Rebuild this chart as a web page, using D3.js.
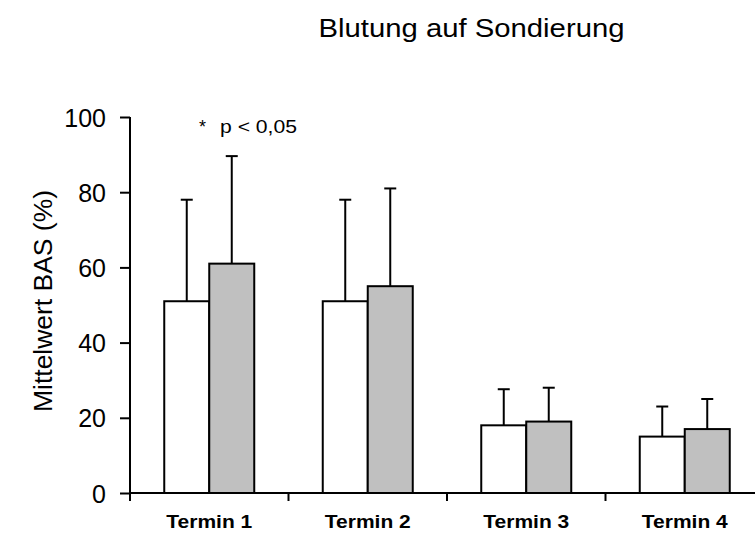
<!DOCTYPE html>
<html><head><meta charset="utf-8">
<script src="https://cdn.jsdelivr.net/npm/d3@7"></script>
<style>body{margin:0;background:#fff}svg{display:block}text{font-family:Arial,"Liberation Sans",sans-serif}</style>
</head><body><svg id="c" width="755" height="533"></svg>
<script>
const categories = ["Termin 1","Termin 2","Termin 3","Termin 4"];
const seriesA = [51, 51, 18, 15];
const seriesAErr = [27, 27, 9.6, 8];
const seriesB = [61, 55, 19, 17];
const seriesBErr = [28.6, 26, 9, 8];
const yTicks = [0,20,40,60,80,100];

const svg = d3.select("#c");
const x0 = 130, x1 = 764, yTop = 117, yBot = 493;
const x = d3.scaleBand().domain(categories).range([x0, x1]);
const y = d3.scaleLinear().domain([0,100]).range([yBot, yTop]);
const bw = 45;

svg.append("text").attr("x",471.5).attr("y",37).attr("text-anchor","middle").attr("font-size",26)
  .attr("textLength",306).attr("lengthAdjust","spacingAndGlyphs").text("Blutung auf Sondierung");

const series = [{v:seriesA,e:seriesAErr,fill:"#fff",off:-bw},{v:seriesB,e:seriesBErr,fill:"#c0c0c0",off:0}];
series.forEach(s=>{
  const g = svg.append("g");
  categories.forEach((c,i)=>{
    const cx = x(c)+x.bandwidth()/2 + s.off;
    const mid = cx + bw/2;
    g.append("line").attr("x1",mid).attr("x2",mid).attr("y1",y(s.v[i])).attr("y2",y(s.v[i]+s.e[i])).attr("stroke","#000").attr("stroke-width",2);
    g.append("line").attr("x1",mid-6).attr("x2",mid+6).attr("y1",y(s.v[i]+s.e[i])).attr("y2",y(s.v[i]+s.e[i])).attr("stroke","#000").attr("stroke-width",2);
    g.append("rect").attr("x",cx).attr("y",y(s.v[i])).attr("width",bw).attr("height",y(0)-y(s.v[i])).attr("fill",s.fill).attr("stroke","#000").attr("stroke-width",2);
  });
});

// y axis
const ya = svg.append("g").attr("transform",`translate(${x0},0)`).call(d3.axisLeft(y).tickValues(yTicks).tickSize(10).tickPadding(14).tickSizeOuter(0));
ya.select(".domain").attr("stroke-width",2).attr("d",`M0,${yTop}V${yBot}`);
ya.selectAll(".tick line").attr("stroke-width",2);
ya.selectAll(".tick text").attr("font-size",25).attr("font-family","Arial, 'Liberation Sans', sans-serif").attr("fill","#000").attr("dy","0.36em");

// x axis
const xa = svg.append("g").attr("transform",`translate(0,${yBot})`);
xa.append("line").attr("x1",x0-1).attr("x2",755).attr("y1",0).attr("y2",0).attr("stroke","#000").attr("stroke-width",2);
categories.forEach(c=>{
  xa.append("line").attr("x1",x(c)).attr("x2",x(c)).attr("y1",0).attr("y2",8).attr("stroke","#000").attr("stroke-width",2);
  xa.append("text").attr("x",x(c)+x.bandwidth()/2).attr("y",35).attr("text-anchor","middle").attr("font-size",18).attr("font-weight","bold")
    .attr("textLength",86).attr("lengthAdjust","spacingAndGlyphs").text(c);
});

svg.append("text").attr("transform","translate(52,301) rotate(-90)").attr("text-anchor","middle").attr("font-size",25)
  .attr("textLength",222).attr("lengthAdjust","spacingAndGlyphs").text("Mittelwert BAS (%)");

svg.append("text").attr("x",199).attr("y",133).attr("font-size",18).text("*");
svg.append("text").attr("x",220).attr("y",133).attr("font-size",18).attr("textLength",77).attr("lengthAdjust","spacingAndGlyphs").text("p < 0,05");
</script></body></html>
